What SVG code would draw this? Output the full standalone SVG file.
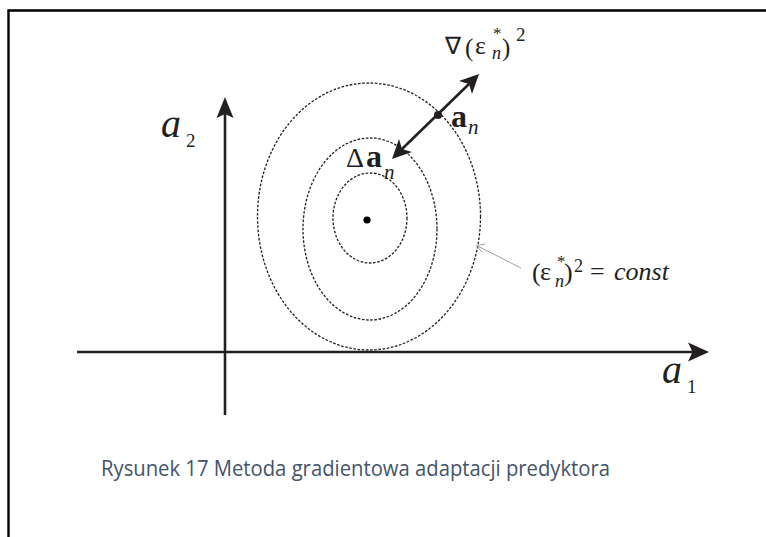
<svg xmlns="http://www.w3.org/2000/svg" width="766" height="537" viewBox="0 0 766 537">
<style>
.ax{stroke:#231f20;stroke-width:2.6;fill:none}
.ah{fill:#231f20;stroke:none}
.el{fill:none;stroke:#231f20;stroke-width:1.3;stroke-dasharray:2.6 1.6}
.m{font-family:"Liberation Serif","Times New Roman",serif;fill:#231f20}
.it{font-style:italic}
.b{font-weight:bold}
.cap{font-family:"Open Sans","Noto Sans",sans-serif;fill:#44546A;font-size:21px}
</style>
<rect width="766" height="537" fill="#fff"/>
<g id="frame">
<path d="M8.5 537 V10.5 H766" fill="none" stroke="#000" stroke-width="2.4"/>
</g>
<g id="ellipses">
<ellipse class="el" cx="369" cy="216.5" rx="111.5" ry="133.5"/>
<ellipse class="el" cx="370" cy="229" rx="67" ry="91"/>
<ellipse class="el" cx="370" cy="218" rx="37" ry="45"/>
<circle cx="367" cy="220" r="3.6" fill="#000"/>
</g>
<g id="connectors">
<g id="x-axis">
<line class="ax" x1="77" y1="352" x2="694" y2="352"/>
<path class="ah" d="M709 352 L688 342.5 L692.5 352 L688 361.5 Z"/>
</g>
<g id="y-axis">
<line class="ax" x1="225" y1="415" x2="225" y2="112"/>
<path class="ah" d="M225 97 L216.5 118 L225 114 L233.5 118 Z"/>
</g>
<g id="gradient-arrow">
<line class="ax" x1="402" y1="149" x2="469" y2="84"/>
<path class="ah" d="M479 74 L472 94 L469 84 L459 81 Z"/>
<path class="ah" d="M392 159 L399 139 L402 149 L412 152 Z"/>
<circle cx="438" cy="115" r="4" fill="#231f20"/>
</g>
<g id="leader">
<line x1="521" y1="268" x2="476.5" y2="245.5" stroke="#a0a0a0" stroke-width="1"/>
<path d="M485 244 L476.5 245.5 L482 252" fill="none" stroke="#a0a0a0" stroke-width="1"/>
</g>
</g>
<g id="label-a2">
<text class="m it" x="161" y="137" font-size="40">a</text>
<text class="m" x="186" y="147" font-size="19">2</text>
</g>
<g id="label-a1">
<text class="m it" x="662" y="383" font-size="40">a</text>
<text class="m" x="687" y="393" font-size="19">1</text>
</g>
<g id="label-grad">
<text class="m" x="445" y="54" font-size="24">∇</text>
<text class="m" x="465" y="56" font-size="25">(</text>
<text class="m" x="475" y="54" font-size="26">ε</text>
<text class="m" x="493" y="39" font-size="17">*</text>
<text class="m it" x="492" y="59" font-size="18">n</text>
<text class="m" x="502" y="56" font-size="25">)</text>
<text class="m" x="516" y="41" font-size="19">2</text>
</g>
<g id="label-an">
<text class="m b" x="451" y="127" font-size="32">a</text>
<text class="m it" x="468" y="134" font-size="21">n</text>
</g>
<g id="label-dan">
<text class="m" x="346" y="167" font-size="28">Δ</text>
<text class="m b" x="366" y="167" font-size="32">a</text>
<text class="m it" x="384" y="179" font-size="21">n</text>
</g>
<g id="label-const">
<text class="m" x="532" y="281" font-size="26">(</text>
<text class="m" x="540" y="280" font-size="26">ε</text>
<text class="m" x="557" y="267" font-size="17">*</text>
<text class="m it" x="555" y="287" font-size="18">n</text>
<text class="m" x="564" y="281" font-size="26">)</text>
<text class="m" x="574" y="272" font-size="18">2</text>
<text class="m" x="590" y="280" font-size="26">=</text>
<text class="m it" x="614" y="280" font-size="26">const</text>
</g>
<g id="caption">
<text class="cap" x="101" y="476" textLength="509" lengthAdjust="spacingAndGlyphs">Rysunek 17 Metoda gradientowa adaptacji predyktora</text>
</g>
</svg>
